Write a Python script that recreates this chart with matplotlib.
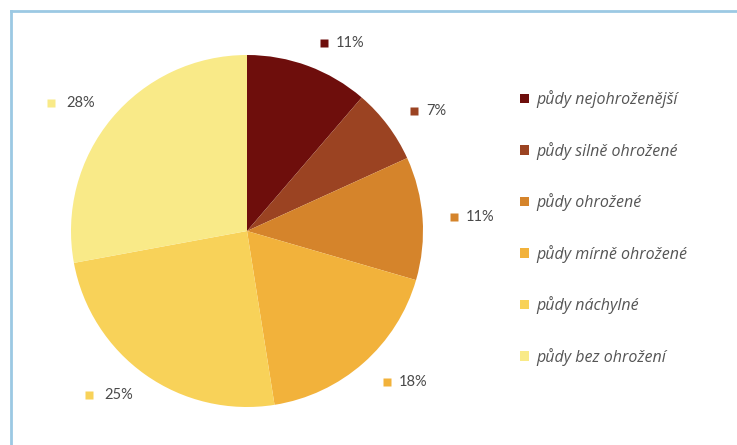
import numpy as np
import matplotlib
matplotlib.use("Agg")
import matplotlib.pyplot as plt
from matplotlib.patches import Patch
from matplotlib.lines import Line2D
from matplotlib.transforms import offset_copy

categories = ["půdy nejohroženější", "půdy silně ohrožené", "půdy ohrožené",
              "půdy mírně ohrožené", "půdy náchylné", "půdy bez ohrožení"]
values = [11.3, 6.9, 11.3, 18.0, 24.6, 27.9]
colors = ["#6E0E0C", "#9B4322", "#D5842B", "#F2B23B", "#F8D259", "#F9EA88"]

W, H = 737, 445
fig = plt.figure(figsize=(W / 100, H / 100), dpi=100)
fig.patch.set_facecolor("white")

# frame
fig.add_artist(Line2D([10.5 / W, 10.5 / W], [0, 1 - 10.5 / H], transform=fig.transFigure,
                      color="#9CC9E3", lw=2))
fig.add_artist(Line2D([10.5 / W, 1], [1 - 10.5 / H, 1 - 10.5 / H], transform=fig.transFigure,
                      color="#9CC9E3", lw=2))

cx, cy, r = 247, H - 231, 176
ax = fig.add_axes([(cx - r) / W, (cy - r) / H, 2 * r / W, 2 * r / H])
wedges, _ = ax.pie(values, colors=colors, startangle=90, counterclock=False,
                   radius=1, wedgeprops=dict(linewidth=0))
ax.set_xlim(-1, 1)
ax.set_ylim(-1, 1)
ax.set_aspect("equal")
ax.axis("off")

font = "Lato"
total = sum(values)
for w, v, c in zip(wedges, values, colors):
    ang = np.deg2rad((w.theta1 + w.theta2) / 2)
    d = 1.14
    x, y = d * np.cos(ang), d * np.sin(ang)
    lab = f"{round(v / total * 100):.0f}%"
    if x >= 0:
        ax.plot([x], [y], marker="s", ms=6, color=c, mec="none", clip_on=False,
                transform=offset_copy(ax.transData, fig=fig, x=7, y=0, units="dots"))
        ax.text(x, y, lab, ha="left", va="center", fontsize=10.5, color="#4a4a4a",
                family=font,
                transform=offset_copy(ax.transData, fig=fig, x=19, y=0, units="dots"))
    else:
        ax.text(x, y, lab, ha="right", va="center", fontsize=10.5, color="#4a4a4a",
                family=font,
                transform=offset_copy(ax.transData, fig=fig, x=2, y=0, units="dots"))
        ax.plot([x], [y], marker="s", ms=6, color=c, mec="none", clip_on=False,
                transform=offset_copy(ax.transData, fig=fig, x=-42, y=0, units="dots"))

handles = [Patch(facecolor=c, edgecolor="none") for c in colors]
leg = fig.legend(handles, categories, loc="upper left",
                 bbox_to_anchor=(506 / W, 1 - 76 / H), frameon=False,
                 prop=dict(family="Open Sans", style="italic", size=11.5),
                 handlelength=0.55, handleheight=0.55, handletextpad=0.42,
                 labelspacing=2.10, labelcolor="#555555")

fig.savefig("out.png", dpi=100, facecolor="white")
